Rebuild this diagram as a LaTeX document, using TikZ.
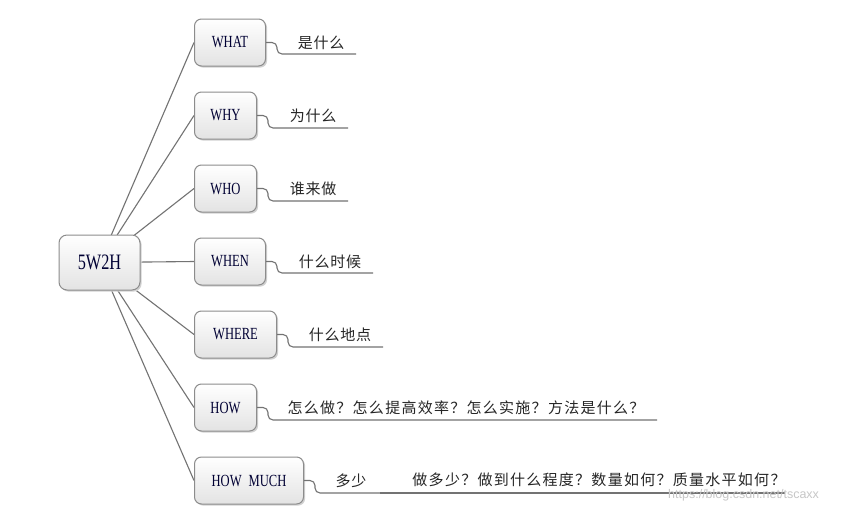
\documentclass[tikz,border=0pt]{standalone}
\usepackage{fontspec}
\setmainfont{Liberation Serif}
\newfontfamily\boxfont[FakeStretch=0.74]{Liberation Serif}
\newfontfamily\cjk[LetterSpace=5]{Noto Sans CJK SC}
\newfontfamily\cjkwide[LetterSpace=8.5]{Noto Sans CJK SC}
\newfontfamily\wmfont{Liberation Sans}
\usetikzlibrary{shadows,backgrounds}
\begin{document}
\begin{tikzpicture}[x=1pt,y=-1pt,
  conn/.style={draw=black!55, line width=1.1pt},
  elbow/.style={draw=black!55, line width=1.1pt, rounded corners=5pt},
  mbox/.style={rounded corners=7pt, draw=black!45, line width=1pt, top color=white, bottom color=black!11,
     minimum height=47pt, inner sep=0pt, anchor=west, text=black!80!blue,
     font=\boxfont\fontsize{17}{17}\selectfont,
     drop shadow={shadow xshift=1.6pt, shadow yshift=-1.6pt, fill=black!18, opacity=1}},
  rootbox/.style={mbox, anchor=center, minimum width=81pt, minimum height=55pt, rounded corners=8pt,
     font=\boxfont\fontsize{22}{22}\selectfont},
  lbl/.style={font=\cjk\fontsize{15}{15}\selectfont, text=black!85, inner sep=0pt},
  lblwide/.style={lbl, font=\cjkwide\fontsize{15}{15}\selectfont},
]
% root
\node[rootbox] (root) at (99.5,262.5) {5W2H};
% children
\node[mbox, minimum width=71pt] (what)  at (194,42.5) {WHAT};
\node[mbox, minimum width=62pt] (why)   at (194,115.5) {WHY};
\node[mbox, minimum width=62pt] (who)   at (194,188.5) {WHO};
\node[mbox, minimum width=71pt] (when)  at (194,261.5) {WHEN};
\node[mbox, minimum width=82pt] (where) at (194,334.5) {WHERE};
\node[mbox, minimum width=62pt] (how)   at (194,407.5) {HOW};
\node[mbox, minimum width=109pt] (howmuch) at (194,480.5) {HOW\hspace{7pt}MUCH};
% labels
\node[lbl] (l1) at (321,43) {是什么};
\node[lbl] (l2) at (313,116) {为什么};
\node[lbl] (l3) at (313,189) {谁来做};
\node[lbl] (l4) at (330,262) {什么时候};
\node[lbl] (l5) at (340,335) {什么地点};
\node[lblwide] (l6) at (466,408) {怎么做？怎么提高效率？怎么实施？方法是什么？};
\node[lbl] (l7) at (351,481) {多少};
\node[lblwide] (l8) at (599,480) {做多少？做到什么程度？数量如何？质量水平如何？};
% underline ends
\coordinate (e1) at (356,54);
\coordinate (e2) at (348,128);
\coordinate (e3) at (348,201);
\coordinate (e4) at (373,273);
\coordinate (e5) at (383,347);
\coordinate (e6) at (657,420);
\coordinate (e7) at (398,493);
\coordinate (e8) at (785,493);
% elbow connectors
\draw[elbow] (what.east) -- ++(11,0) |- (e1);
\draw[elbow] (why.east) -- ++(11,0) |- (e2);
\draw[elbow] (who.east) -- ++(11,0) |- (e3);
\draw[elbow] (when.east) -- ++(11,0) |- (e4);
\draw[elbow] (where.east) -- ++(11,0) |- (e5);
\draw[elbow] (how.east) -- ++(11,0) |- (e6);
\draw[elbow] (howmuch.east) -- ++(11,0) |- (e7);
\draw[conn] ([xshift=-18pt]e7) -- (e8);
% watermark
\node[font=\wmfont\fontsize{12.5}{12.5}\selectfont, text=black!22, inner sep=0pt, anchor=west] (wm) at (668,495) {https://blog.csdn.net/tscaxx};
\begin{pgfonlayer}{background}
\fill[white] (0,0) rectangle (865,512);
\foreach \c in {what,why,who,when,where,how,howmuch}
  \draw[conn] (root.center) -- (\c.west);
\end{pgfonlayer}
\end{tikzpicture}
\end{document}
